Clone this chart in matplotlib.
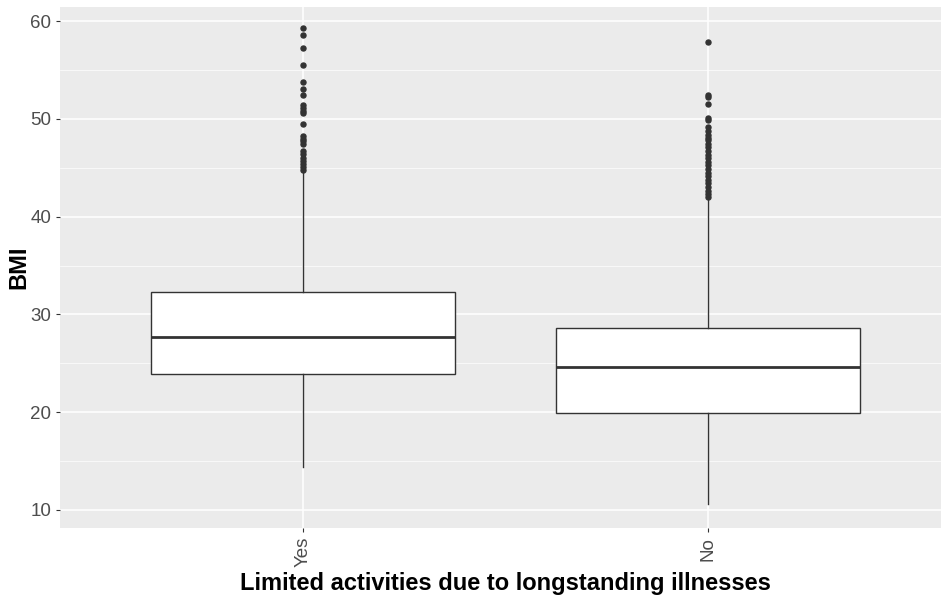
import matplotlib.pyplot as plt
from matplotlib.ticker import MultipleLocator

plt.rcParams['font.family'] = ['Liberation Sans', 'DejaVu Sans']

categories = ['Yes', 'No']
q1 = [23.9, 19.9]
median = [27.7, 24.6]
q3 = [32.3, 28.6]
whis_lo = [14.4, 10.6]
whis_hi = [44.6, 41.7]
outliers_yes = [59.3, 58.6, 57.3, 55.5, 53.8, 53.1, 52.5, 51.4, 51.1, 50.8,
                50.6, 49.5, 48.3, 48.0, 47.7, 47.4, 46.7, 46.4, 46.0, 45.7,
                45.4, 45.1, 44.8]
outliers_no = [57.9, 52.5, 52.2, 51.5, 50.1, 49.9, 49.2, 48.8, 48.4, 48.1,
               47.8, 47.4, 47.1, 46.7, 46.3, 46.0, 45.6, 45.3, 44.9, 44.5,
               44.2, 43.8, 43.4, 43.0, 42.6, 42.3, 42.0]
outliers = [outliers_yes, outliers_no]

stats = []
for i, c in enumerate(categories):
    stats.append(dict(label=c, q1=q1[i], med=median[i], q3=q3[i],
                      whislo=whis_lo[i], whishi=whis_hi[i], fliers=outliers[i]))

fig = plt.figure(figsize=(9.41, 6.03), dpi=100)
# panel runs a little past the right edge, as in the reference
ax = fig.add_axes([0.0638, 0.1244, 0.9469, 0.8636])
ax.set_facecolor('#EBEBEB')

ink = '#333333'
ax.bxp(stats, positions=[1, 2], widths=0.75, patch_artist=True,
       boxprops=dict(facecolor='white', edgecolor=ink, linewidth=1.0),
       medianprops=dict(color=ink, linewidth=2.0),
       whiskerprops=dict(color=ink, linewidth=1.0),
       capprops=dict(linewidth=0),
       flierprops=dict(marker='o', markerfacecolor=ink, markeredgecolor=ink,
                       markersize=3.6, linestyle='none'),
       zorder=3)

ax.set_xlim(0.4, 2.6)
ax.set_ylim(8.16, 61.43)
ax.yaxis.set_major_locator(MultipleLocator(10))
ax.yaxis.set_minor_locator(MultipleLocator(5))
ax.set_xticks([1, 2])
ax.set_xticklabels(categories, rotation=90)
ax.grid(True, which='major', color='white', linewidth=1.1, zorder=0)
ax.grid(True, which='minor', axis='y', color='white', linewidth=0.5, zorder=0)
ax.set_axisbelow(True)
for s in ax.spines.values():
    s.set_visible(False)
ax.tick_params(axis='both', which='major', length=3, width=0.8, color='#333333',
               labelcolor='#4D4D4D', labelsize=13.5)
ax.tick_params(axis='y', which='minor', length=0)

ax.set_xlabel('Limited activities due to longstanding illnesses',
              fontsize=17, fontweight='bold', labelpad=3)
ax.set_ylabel('BMI', fontsize=17, fontweight='bold', labelpad=0)

plt.savefig('out.png', dpi=100)
